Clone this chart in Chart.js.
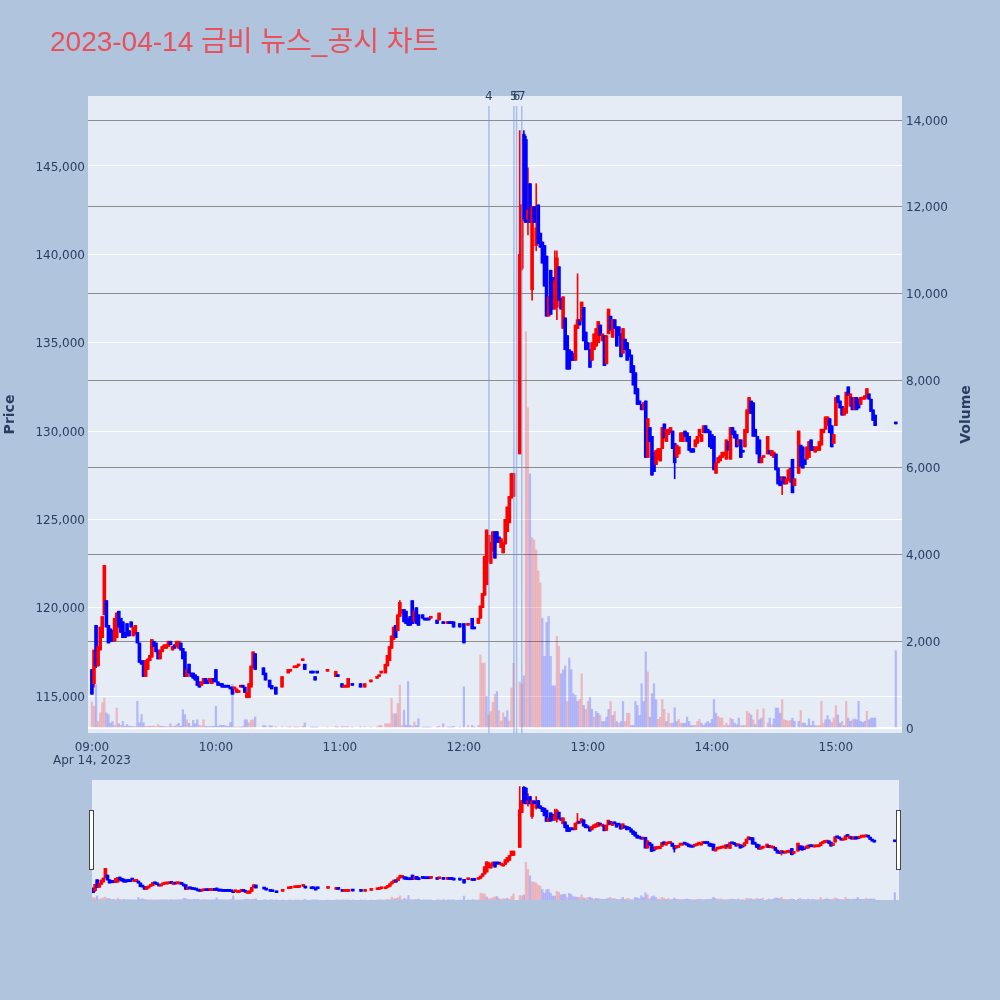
<!DOCTYPE html>
<html>
<head>
<meta charset="utf-8">
<script src="https://cdn.jsdelivr.net/npm/chart.js@4.4.0/dist/chart.umd.min.js"></script>
<style>
  body { margin: 0; background: #b0c4de; width: 1000px; height: 1000px; position: relative; overflow: hidden; }
  #main { position: absolute; left: 0; top: 0; }
  #slider { position: absolute; left: 92px; top: 780px; }
  .handle { position: absolute; top: 810px; width: 3px; height: 58px; background: #fff; border: 1px solid #444; }
</style>
</head>
<body>
<canvas id="main" width="1000" height="780"></canvas>
<canvas id="slider" width="807" height="120"></canvas>
<div class="handle" style="left:89px"></div>
<div class="handle" style="left:896px"></div>
<script>
// ===== chart data (minutes after 09:00)
const minutes = [
  0,1,2,3,4,5,6,7,8,9,
  10,11,12,13,14,15,16,17,18,19,
  20,21,22,23,24,25,26,27,28,29,
  30,31,32,33,34,35,36,37,38,39,
  40,41,42,43,44,45,46,47,48,49,
  50,51,52,53,54,55,56,57,58,59,
  60,61,62,63,64,65,66,67,68,69,
  70,71,72,73,74,75,76,77,78,79,
  83,84,86,87,89,92,95,96,98,99,
  100,102,103,106,107,108,109,114,118,119,
  121,122,123,124,126,130,132,135,138,139,
  140,142,143,144,145,146,147,148,149,150,
  151,152,153,154,155,156,157,158,160,161,
  162,163,164,167,168,170,172,173,174,175,
  178,180,182,184,185,187,188,189,190,191,
  192,193,194,195,196,197,198,199,200,201,
  202,203,204,207,208,209,210,211,212,213,
  214,215,216,217,218,219,220,221,222,223,
  224,225,226,227,228,229,230,231,232,233,
  234,235,236,237,238,239,240,241,242,243,
  244,245,246,247,248,249,250,251,252,253,
  254,255,256,257,258,259,260,261,262,263,
  264,265,266,267,268,269,270,271,272,273,
  274,275,276,277,278,279,280,281,282,283,
  284,285,286,287,288,289,290,291,292,293,
  294,295,296,297,298,299,300,301,302,303,
  304,305,306,307,308,309,310,311,312,313,
  314,315,316,317,318,319,320,321,322,323,
  324,325,327,328,329,330,331,332,333,334,
  335,336,337,338,339,340,342,343,344,345,
  346,347,348,349,350,351,352,353,354,355,
  356,357,358,359,360,361,362,363,364,365,
  366,367,368,369,370,371,372,373,374,375,
  376,377,378,379,389
];
const opens = [
  116500,115700,119000,116700,117600,118300,119600,120400,119000,118800,
  118700,118100,118300,119800,119400,119200,118600,119100,118700,119200,
  118400,118500,118600,118000,117000,117000,116100,116500,117000,117200,
  118100,118000,117600,117100,117500,117700,117700,117800,118100,117600,
  117900,117800,117700,118000,117700,117500,116100,116800,116300,116300,
  116200,116100,115800,115600,115700,116000,115900,115800,115700,116000,
  116500,115800,115700,115700,115600,115600,115600,115500,115500,115400,
  115200,115200,115500,115600,115500,114900,114900,115500,116600,117400,
  116600,116300,115900,115600,115500,115500,116300,116400,116600,116600,
  116700,117000,116800,116400,116400,116100,116400,116400,116100,116200,
  115700,115500,115500,115500,115700,115700,115500,115800,116000,116100,
  116300,116300,116700,117000,117700,118200,119000,118700,119500,119700,
  119900,119800,119400,119500,120400,119200,120000,119600,119600,119400,
  119400,119400,119400,119300,119300,119200,119100,119200,119200,119200,
  119100,119100,119000,119400,118900,119100,119400,120000,120700,121300,
  122600,122500,123200,124300,124300,124000,123400,123100,123600,124300,
  124800,126200,126300,128700,139200,146800,146500,142000,144000,138000,
  142700,140500,142800,141200,140700,140500,139900,136500,139100,138700,
  136900,137000,139300,137500,135800,136400,135400,134600,134500,134400,
  134000,135800,136300,136200,137000,135600,135000,134600,134000,134600,
  134800,135000,136000,135100,135400,133800,135500,136500,135300,136300,
  135900,135900,135500,134400,135200,135000,134600,134300,133700,133300,
  132400,131700,131500,131200,131700,128500,130200,129700,128800,128100,
  128400,128300,129000,130400,129400,129800,129900,130000,129300,128500,
  128700,129400,129400,130000,129900,129700,129000,129000,129100,129300,
  129700,129400,129900,130300,130100,130000,129800,129700,127600,128200,
  128300,128500,128600,128400,129400,128400,130200,130000,129800,129200,
  129500,128900,129100,129900,131000,131700,131600,130100,129700,129500,
  128200,128500,128700,128900,128600,128500,128700,127900,127400,127200,
  127400,127000,127200,127100,128400,126900,127600,129200,129100,128400,
  128400,128500,129500,129100,128800,128900,128900,129200,129900,130100,
  130300,130700,130300,129300,130300,132000,131700,131400,130900,131000,
  132500,131400,131900,131200,131900,131800,131500,131800,131800,131900,
  132100,131800,131200,130900,130500
];
const highs = [
  116500,117600,119000,117800,118900,119500,122400,120400,119000,118800,
  118700,119400,119700,119800,119400,119200,118600,119100,118700,119200,
  118900,119000,118600,118000,117000,117000,117000,117100,117300,118200,
  118100,118000,117600,117600,117800,117900,117900,118100,118100,117800,
  117900,118100,118100,118000,117700,117500,116500,116800,116300,116300,
  116200,116100,115800,115800,116000,116000,115900,116000,116000,116000,
  116500,115800,115700,115700,115600,115600,115600,115500,115500,115500,
  115400,115300,115600,115600,115500,115200,115700,116700,117500,117400,
  116600,116300,115900,115600,115500,116100,116500,116500,116600,116700,
  116800,117000,116800,116400,116400,116100,116400,116500,116400,116200,
  115700,115600,115600,116000,115700,115700,115700,115900,116000,116100,
  116400,116800,117300,117800,118400,118900,119000,119600,120400,119900,
  119900,119800,119400,119500,120400,119800,120000,119600,119600,119400,
  119400,119400,119500,119300,119700,119200,119200,119200,119200,119200,
  119100,119100,119100,119400,118900,119400,120100,120800,122900,124400,
  124100,123700,124300,124300,124300,124000,123900,123700,125000,125700,
  126300,127600,127600,147000,142800,147000,146700,144900,144000,142700,
  142700,144000,142800,141200,140700,140500,139900,137600,139100,138700,
  140200,140200,139300,137500,137600,136400,135400,134600,134500,134400,
  136000,138900,136300,137300,137000,135600,135000,134600,135000,135500,
  135800,136200,136000,135500,135400,135400,136900,136500,136300,136300,
  135900,135900,135500,135800,135200,135000,134600,134300,133700,133300,
  132400,131700,131500,131600,131700,130700,130200,129700,128800,128900,
  129000,129000,130200,130400,130100,130100,130200,130000,129300,129200,
  129100,129900,129900,130000,129900,129700,129000,129000,129500,129700,
  130100,129800,130300,130300,130100,130000,129800,129700,128200,128500,
  128600,128800,128800,129500,129400,130200,130200,130000,129800,129500,
  129500,128900,130100,131200,131900,131700,131600,130100,129700,129500,
  128500,128600,129700,128900,128900,128800,128700,127900,127400,127400,
  127400,127300,127800,127900,128400,127300,130000,129200,129100,128400,
  129100,129400,129500,129100,129100,129100,129400,130100,130100,130800,
  130800,130700,130300,129800,131900,132000,131700,131400,131300,132200,
  132500,132100,131900,131900,131900,131800,131900,131900,132000,132400,
  132100,131800,131200,130900,130500
];
const lows = [
  115100,115500,116600,116700,117600,118300,119600,118900,118000,118100,
  118100,118100,118300,118900,118600,118300,118300,118400,118400,118900,
  118400,118500,118000,116900,116800,116100,116100,116500,117000,117200,
  117800,117500,117100,117100,117500,117700,117700,117800,117900,117600,
  117700,117800,117700,117600,117100,116100,116100,116300,116100,116000,
  115900,115600,115500,115600,115700,115700,115700,115800,115700,115800,
  115800,115600,115600,115500,115500,115500,115500,115400,115100,115400,
  115200,115200,115500,115500,115200,114900,114900,115500,116600,116500,
  116200,115900,115500,115400,115100,115500,116300,116400,116600,116600,
  116700,117000,116500,116300,116300,115900,116300,116400,116100,116100,
  115500,115500,115500,115500,115600,115500,115500,115800,116000,116100,
  116300,116300,116700,117000,117700,118200,118300,118700,119500,119700,
  119200,119100,119000,119000,119100,119200,119100,119000,119400,119300,
  119300,119300,119400,119100,119300,119100,119100,119100,119100,118900,
  118900,118000,119000,118800,118800,119100,119400,120000,120700,121300,
  122600,122500,123200,122800,123700,123700,123400,123100,123600,124300,
  124800,126200,126300,128700,139100,141900,141800,141100,141800,137400,
  141800,140200,140600,140400,139500,138200,136500,136500,136600,136900,
  136900,136300,137400,136900,135800,134600,133500,133500,134000,134000,
  134000,135800,136000,136200,135100,134600,134600,133600,134000,134600,
  134800,135000,135400,135100,133700,133800,135500,135700,135300,135800,
  134800,135400,134200,134400,134600,134000,134200,133300,132600,132100,
  131500,131500,131200,131200,128500,128500,129400,127500,127700,128100,
  128400,128300,129000,129600,129400,129800,129900,129000,127300,128500,
  128700,129400,129400,129700,129400,128900,128800,128800,129100,129300,
  129700,129400,129900,129900,129900,129100,129000,127800,127600,128200,
  128300,128500,128600,128400,128900,128400,129800,129600,129100,129200,
  128500,128800,129100,129900,131000,131000,129700,129700,128700,128200,
  128200,128500,128700,128700,128600,128500,127800,127000,126900,126400,
  127000,127000,127200,127100,126500,126900,127600,128000,127900,128100,
  128400,128500,128900,128900,128800,128900,128900,129200,129900,130100,
  130300,129900,129100,129300,130300,131600,131300,130900,130900,131000,
  132000,131400,131200,131200,131200,131300,131500,131800,131800,131900,
  131800,131100,130600,130300,130400
];
const closes = [
  115100,117600,116700,117800,118900,119500,122400,118900,118000,118100,
  118100,119400,119700,118900,118600,118300,118300,118400,118400,118900,
  118900,119000,118000,116900,116800,116100,117000,117100,117300,118200,
  117800,117500,117100,117600,117800,117900,117900,118100,117900,117800,
  117700,118100,118100,117600,117100,116100,116500,116300,116100,116000,
  115900,115600,115500,115800,116000,115700,115700,116000,116000,115800,
  115800,115600,115600,115500,115500,115500,115500,115400,115100,115500,
  115400,115300,115600,115500,115200,115200,115700,116700,117500,116500,
  116200,115900,115500,115400,115100,116100,116500,116500,116600,116700,
  116800,117000,116500,116300,116300,115900,116300,116500,116400,116100,
  115500,115600,115600,116000,115600,115500,115700,115900,116000,116100,
  116400,116800,117300,117800,118400,118900,118300,119600,120300,119900,
  119200,119100,119000,119000,119100,119800,119100,119000,119400,119300,
  119300,119300,119500,119100,119700,119100,119200,119100,119100,118900,
  118900,118000,119100,118800,118800,119400,120100,120800,122900,124400,
  124100,123700,124300,122800,123700,123700,123900,123700,125000,125700,
  126300,127600,127600,140000,142800,142000,141800,142500,141800,142700,
  141800,141500,140600,140400,139500,138200,136500,137600,136600,136900,
  138500,139800,137400,136900,137600,134600,133500,133500,134000,134000,
  136000,136300,136000,137300,135100,134600,134600,133600,135000,135500,
  135800,136200,135400,135500,133700,135400,136900,135700,136300,135800,
  134800,135400,134200,135800,134600,134000,134200,133300,132600,132100,
  131500,131500,131200,131600,128500,130700,129400,127500,127700,128900,
  129000,129000,130200,129600,130100,130100,130200,129000,128200,129200,
  129100,129900,129900,129700,129400,128900,128800,128800,129500,129700,
  130100,129800,130300,129900,129900,129100,129000,127800,128200,128500,
  128600,128800,128800,129500,128900,130200,129800,129600,129100,129500,
  128500,128800,130100,131200,131900,131000,129700,129700,128700,128200,
  128500,128600,129700,128700,128900,128800,127800,127000,126900,127400,
  127000,127300,127800,127900,126500,127300,130000,128000,127900,128100,
  129100,129400,128900,128900,129100,129100,129400,130100,130100,130800,
  130800,129900,129100,129800,131900,131600,131300,130900,131300,132200,
  132000,132100,131200,131900,131200,131300,131900,131900,132000,132400,
  131800,131100,130600,130300,130400
];
const volumes = [
  600,500,1000,150,350,580,690,350,310,115,
  150,60,460,100,60,150,40,80,40,40,
  40,40,615,120,310,120,40,40,40,40,
  50,30,80,40,40,40,30,30,100,30,
  40,80,110,40,420,310,190,110,40,180,
  100,190,60,50,190,40,30,40,40,40,
  500,40,60,60,60,40,40,130,1000,20,
  20,20,20,40,190,190,120,180,190,255,
  60,50,50,50,30,30,30,20,20,20,
  20,40,115,20,20,20,20,20,40,20,
  30,30,30,30,20,30,30,20,20,60,
  60,100,100,100,680,330,330,565,990,60,
  410,60,1070,60,40,140,60,215,20,20,
  20,20,20,20,40,100,20,20,20,40,
  20,950,60,60,20,60,1680,1490,1500,730,
  300,380,590,780,840,400,160,350,250,400,
  160,920,1490,1060,1010,1200,9120,7370,5850,4380,
  4330,4100,3620,3340,2530,1650,2430,2570,1650,970,
  970,2110,1880,1250,1340,1430,610,1610,1340,790,
  750,610,660,1250,520,430,610,700,430,250,
  380,340,290,150,150,250,430,610,290,380,
  150,110,150,610,150,340,340,60,60,610,
  520,290,1020,610,1750,1290,250,790,1020,650,
  200,250,655,430,150,340,110,110,470,150,
  200,110,110,110,250,150,60,60,60,150,
  200,110,60,110,150,110,200,655,340,270,
  230,230,60,115,60,230,200,115,77,230,
  55,55,60,385,345,300,190,77,420,190,
  230,445,115,230,77,210,460,460,345,650,
  190,175,155,175,230,155,155,405,115,115,
  55,210,60,155,55,55,60,615,115,190,
  285,190,130,230,515,300,115,155,55,615,
  230,155,190,210,190,615,155,130,155,385,
  190,230,230,230,1780
];
// 1 = rising (red) volume bar, 0 = falling (blue)
const volUp = [
  1,1,0,1,1,1,1,0,0,0,
  0,1,1,0,1,0,0,0,0,0,
  1,1,0,0,0,0,1,1,0,1,
  1,1,1,0,0,1,0,1,0,1,
  0,1,0,0,0,0,1,0,0,0,
  0,0,1,1,1,0,0,1,0,0,
  0,0,0,0,0,0,0,0,0,1,
  1,1,0,0,0,0,1,1,1,0,
  0,0,0,0,0,1,1,1,1,1,
  1,1,0,0,0,0,0,1,1,0,
  0,1,1,1,0,0,1,1,1,1,
  1,1,1,1,1,1,0,1,1,1,
  0,0,0,0,0,1,0,0,0,0,
  0,0,1,0,1,0,1,0,0,0,
  0,0,1,0,0,1,1,1,1,0,
  1,1,1,1,0,1,1,1,0,0,
  1,1,1,1,1,0,1,1,0,1,
  1,1,1,1,0,0,0,0,0,0,
  0,1,1,0,0,0,1,0,0,0,
  0,0,1,1,0,1,1,0,0,1,
  0,0,1,0,0,0,0,1,0,1,
  0,1,0,0,1,1,1,0,0,0,
  0,0,0,0,0,1,0,0,0,0,
  1,1,1,1,0,1,1,0,0,0,
  1,1,0,0,0,0,0,0,1,1,
  1,0,0,0,0,0,0,0,0,1,
  1,1,1,1,0,1,0,0,0,0,
  1,0,1,1,1,0,1,0,1,0,
  0,1,1,0,1,0,0,0,0,1,
  1,1,1,1,0,0,0,1,0,0,
  0,0,0,0,0,1,1,1,1,0,
  0,0,1,1,1,0,0,1,0,1,
  0,0,1,0,0,0,0,0,0,1,
  0,0,0,0,0
];

// x axis ticks and news markers
const tickMinutes = [0, 60, 120, 180, 240, 300, 360];
const tickLabels = ["09:00", "10:00", "11:00", "12:00", "13:00", "14:00", "15:00"];
const dateLabel = "Apr 14, 2023";
const priceTicks = [115000, 120000, 125000, 130000, 135000, 140000, 145000];
const volumeTicks = [0, 2000, 4000, 6000, 8000, 10000, 12000, 14000];
const newsMinutes = [192.1, 204.2, 205.5, 208.0];
const newsLabels = ["4", "5", "6", "7"];

const TITLE = "2023-04-14 금비 뉴스_공시 차트";
const FONT = "'DejaVu Sans', sans-serif";
const TEXT = "#2a3f5f";

// ===== build datasets
const isUp = closes.map((c, i) => c >= opens[i]);
const candleColors = isUp.map(u => (u ? "#ff0000" : "#0000ff"));
const volColors = volUp.map(u => (u ? "rgba(255,0,0,0.22)" : "rgba(0,0,255,0.22)"));

const wickData = minutes.map((m, i) => ({ x: m, y: [lows[i], highs[i]] }));
const bodyData = minutes.map((m, i) => ({ x: m, y: [opens[i], closes[i]] }));
const volData = minutes.map((m, i) => ({ x: m, y: volumes[i] }));

function makeSets(wickW, bodyW, volW) {
  return [
    { data: volData, yAxisID: "y2", backgroundColor: volColors, barThickness: volW, grouped: false, order: 3 },
    { data: wickData, yAxisID: "y", backgroundColor: candleColors, barThickness: wickW, grouped: false, order: 2 },
    { data: bodyData, yAxisID: "y", backgroundColor: candleColors, barThickness: bodyW, minBarLength: 2, grouped: false, order: 1 }
  ];
}

// plot background
const plotBg = {
  id: "plotBg",
  beforeDraw(chart, args, opts) {
    const { ctx, chartArea: a } = chart;
    ctx.save();
    ctx.fillStyle = opts.color;
    ctx.fillRect(a.left, a.top, a.right - a.left, a.bottom - a.top);
    ctx.restore();
  }
};

// title, axis titles and news lines
const extras = {
  id: "extras",
  afterDatasetsDraw(chart) {
    const { ctx, chartArea: a, scales } = chart;
    ctx.save();
    // news markers
    ctx.strokeStyle = "rgba(120,150,230,0.55)";
    ctx.lineWidth = 1.5;
    ctx.font = "12px " + FONT;
    ctx.fillStyle = TEXT;
    ctx.textAlign = "center";
    ctx.textBaseline = "middle";
    newsMinutes.forEach((m, i) => {
      const x = scales.x.getPixelForValue(m);
      ctx.beginPath();
      ctx.moveTo(x, a.top + 10);
      ctx.lineTo(x, a.bottom);
      ctx.stroke();
      ctx.fillText(newsLabels[i], x, a.top + 1);
    });
    // axis titles
    ctx.font = "bold 14px " + FONT;
    [["Price", 10], ["Volume", 966]].forEach(([t, x]) => {
      ctx.save();
      ctx.translate(x, (a.top + a.bottom) / 2);
      ctx.rotate(-Math.PI / 2);
      ctx.fillText(t, 0, 0);
      ctx.restore();
    });
    // chart title
    ctx.font = "28px 'Liberation Sans', 'Noto Sans CJK KR', sans-serif";
    ctx.fillStyle = "#e8505b";
    ctx.textAlign = "left";
    ctx.textBaseline = "alphabetic";
    ctx.fillText(TITLE, 50, 51);
    ctx.restore();
  }
};

const tickFont = { family: FONT, size: 12, lineHeight: 1.1 };

new Chart(document.getElementById("main"), {
  type: "bar",
  data: { datasets: makeSets(1, 3, 1.6) },
  plugins: [plotBg, extras],
  options: {
    responsive: false,
    animation: false,
    layout: { padding: { top: 96, right: 25, left: 0, bottom: 0 } },
    plugins: { legend: { display: false }, tooltip: { enabled: false }, plotBg: { color: "#e5ecf6" } },
    scales: {
      x: {
        type: "linear", min: -1.9, max: 392, offset: false,
        afterBuildTicks: s => { s.ticks = tickMinutes.map(v => ({ value: v })); },
        afterFit: s => { s.height = 47; },
        ticks: {
          autoSkip: false, maxRotation: 0, padding: 0, color: TEXT, font: tickFont,
          callback: (v) => {
            const i = tickMinutes.indexOf(v);
            return i === 0 ? [tickLabels[0], dateLabel] : tickLabels[i];
          }
        },
        grid: { display: false },
        border: { display: false }
      },
      y: {
        position: "left", min: 112906, max: 148962,
        afterBuildTicks: s => { s.ticks = priceTicks.map(v => ({ value: v })); },
        afterFit: s => { s.width = 88; },
        ticks: { padding: 3, labelOffset: 1.5, color: TEXT, font: tickFont, callback: v => v.toLocaleString("en-US") },
        grid: { color: "#ffffff", lineWidth: 1, drawTicks: false },
        border: { display: false }
      },
      y2: {
        position: "right", min: -115, max: 14553,
        afterBuildTicks: s => { s.ticks = volumeTicks.map(v => ({ value: v })); },
        afterFit: s => { s.width = 73; },
        ticks: { padding: 4, labelOffset: 1.5, color: TEXT, font: tickFont, callback: v => v.toLocaleString("en-US") },
        grid: {
          drawTicks: false,
          color: c => (c.tick && c.tick.value === 0 ? "#ffffff" : "#8c8c8c"),
          lineWidth: c => (c.tick && c.tick.value === 0 ? 2 : 1)
        },
        border: { display: false }
      }
    }
  }
});

// ===== range slider preview
new Chart(document.getElementById("slider"), {
  type: "bar",
  data: { datasets: makeSets(1, 3, 1.6) },
  plugins: [plotBg],
  options: {
    responsive: false,
    animation: false,
    layout: { padding: 0 },
    plugins: { legend: { display: false }, tooltip: { enabled: false }, plotBg: { color: "#e5ecf6" } },
    scales: {
      x: { type: "linear", min: -0.5, max: 391, offset: false, display: false },
      y: { min: 112906, max: 148962, display: false },
      y2: { min: 0, max: 29000, display: false }
    }
  }
});
</script>
</body>
</html>
